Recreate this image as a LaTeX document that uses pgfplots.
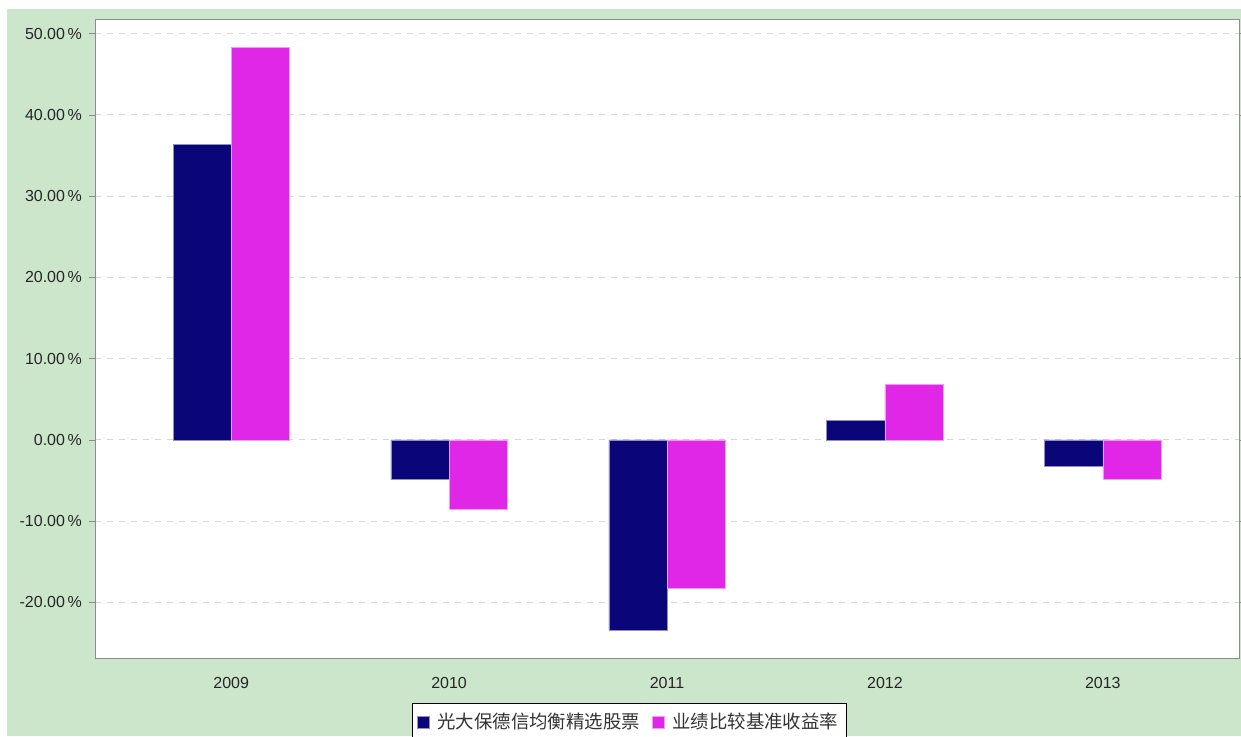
\documentclass[border=0pt]{standalone}
\usepackage{pgfplots}
\pgfplotsset{compat=1.18}
\usepackage{fontspec}
\setmainfont{Liberation Sans}
\newfontfamily\cjk{Noto Sans CJK SC}
\definecolor{bggreen}{RGB}{204,230,204}
\definecolor{fundblue}{RGB}{10,5,120}
\definecolor{benchpink}{RGB}{224,38,230}
\definecolor{gridgray}{RGB}{215,215,215}
\definecolor{framegray}{RGB}{140,140,140}

\pgfplotsset{
    sqlegend/.style={legend image code/.code={\fill[##1] (0pt,-3pt) rectangle (6pt,3pt); \path (8pt,0pt);}},
}

\begin{document}
\begin{tikzpicture}[x=0.5pt,y=0.5pt]
\useasboundingbox (0,0) rectangle (1241,736);
\fill[white] (0,0) rectangle (1241,736);
\fill[bggreen] (7,0) rectangle (1241,727);
\begin{axis}[
    at={(47.5pt,39pt)}, anchor=south west,
    scale only axis, width=572pt, height=319.5pt,
    axis background/.style={fill=white},
    xmin=-0.625, xmax=4.625,
    ymin=-26.85, ymax=51.8,
    ybar=0pt, bar width=0.267,
    xtick={0,1,2,3,4},
    xticklabels={2009,2010,2011,2012,2013},
    ytick={-20,-10,0,10,20,30,40,50},
    yticklabel={\pgfmathprintnumber[fixed,fixed zerofill,precision=2]{\tick}\,\%},
    /pgf/number format/assume math mode=true,
    ymajorgrids=true,
    grid style={gridgray, dashed},
    axis line style={framegray},
    tick style={framegray},
    xtick style={draw=none},
    tick align=outside,
    major tick length=3pt,
    tick label style={font=\fontsize{8}{9.5}\selectfont, text=black!85},
    xticklabel style={yshift=-3pt},
    legend columns=2,
    legend style={
        at={(0.4672,-0.0704)}, anchor=north,
        draw=black, fill=white,
        font=\cjk\fontsize{9.2}{11}\selectfont, text=black!80,
        inner xsep=2pt, inner ysep=3pt,
        /tikz/every even column/.append style={column sep=4pt},
    },
]

\addplot[fill=fundblue, draw=fundblue!45!white, line width=0.3pt, sqlegend]
    coordinates {
    (0,36.4) (1,-4.9) (2,-23.4) (3,2.4) (4,-3.2)
    };
\addplot[fill=benchpink, draw=benchpink!45!white, line width=0.3pt, sqlegend]
    coordinates {
    (0,48.3) (1,-8.5) (2,-18.3) (3,6.8) (4,-4.8)
    };
\legend{光大保德信均衡精选股票,业绩比较基准收益率}

\end{axis}
\end{tikzpicture}
\end{document}
